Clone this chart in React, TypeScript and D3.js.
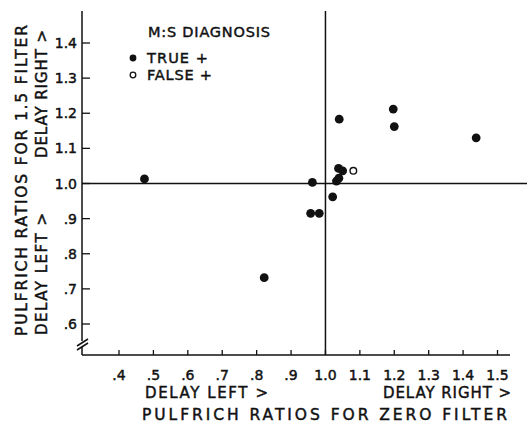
import React from "react";
import * as d3 from "d3";

const xTicks = [0.4, 0.5, 0.6, 0.7, 0.8, 0.9, 1.0, 1.1, 1.2, 1.3, 1.4, 1.5];
const xTickLabels = [".4", ".5", ".6", ".7", ".8", ".9", "1.0", "1.1", "1.2", "1.3", "1.4", "1.5"];
const yTicks = [0.6, 0.7, 0.8, 0.9, 1.0, 1.1, 1.2, 1.3, 1.4];
const yTickLabels = [".6", ".7", ".8", ".9", "1.0", "1.1", "1.2", "1.3", "1.4"];

const trueX = [0.474, 0.822, 0.957, 0.982, 0.962, 1.021, 1.032, 1.039, 1.038, 1.05, 1.04, 1.197, 1.2, 1.438];
const trueY = [1.013, 0.732, 0.915, 0.915, 1.003, 0.962, 1.007, 1.015, 1.043, 1.036, 1.183, 1.212, 1.162, 1.13];
const falseX = [1.081];
const falseY = [1.036];

const W = 527;
const H = 426;
const FONT = "'DejaVu Sans', sans-serif";

export default function App() {
  const x = d3.scaleLinear().domain([0.4, 1.5]).range([119, 497.5]);
  const y = d3.scaleLinear().domain([0.6, 1.4]).range([324, 43]);
  const axisX = 82;
  const axisY = 355;
  const topY = 11;
  const rightX = 527;
  const ink = "#111";
  const txt = { fontFamily: FONT, fill: ink, stroke: ink, strokeWidth: 0.45 } as const;

  return (
    <svg width={W} height={H} style={{ position: "absolute", left: 0, top: 0, background: "#fff" }}>
      <rect width={W} height={H} fill="#fff" />
      {/* axes */}
      <line x1={axisX} y1={topY} x2={axisX} y2={341} stroke={ink} strokeWidth={1.5} />
      <line x1={axisX} y1={347} x2={axisX} y2={axisY} stroke={ink} strokeWidth={1.5} />
      <line x1={77} y1={346} x2={88} y2={339} stroke={ink} strokeWidth={1.5} />
      <line x1={77} y1={350} x2={88} y2={343} stroke={ink} strokeWidth={1.5} />
      <line x1={axisX} y1={axisY} x2={510} y2={axisY} stroke={ink} strokeWidth={1.5} />
      {/* reference lines */}
      <line x1={x(1.0)} y1={topY} x2={x(1.0)} y2={axisY} stroke={ink} strokeWidth={1.5} />
      <line x1={axisX} y1={y(1.0)} x2={rightX} y2={y(1.0)} stroke={ink} strokeWidth={1.5} />
      {/* x ticks */}
      {xTicks.map((t, i) => (
        <g key={"xt" + i}>
          <line x1={x(t)} y1={axisY} x2={x(t)} y2={axisY - 5} stroke={ink} strokeWidth={1.3} />
          <text x={x(t)} y={380} textAnchor="middle" fontSize={14} {...txt}>
            {xTickLabels[i]}
          </text>
        </g>
      ))}
      {/* y ticks */}
      {yTicks.map((t, i) => (
        <g key={"yt" + i}>
          <line x1={axisX} y1={y(t)} x2={axisX + 8} y2={y(t)} stroke={ink} strokeWidth={1.3} />
          <text x={77} y={y(t)} dy="0.36em" textAnchor="end" fontSize={14} {...txt}>
            {yTickLabels[i]}
          </text>
        </g>
      ))}
      {/* x axis titles */}
      <text x={145} y={398} fontSize={15} textLength={123} lengthAdjust="spacing" {...txt}>DELAY LEFT &gt;</text>
      <text x={383} y={398} fontSize={15} textLength={128} lengthAdjust="spacing" {...txt}>DELAY RIGHT &gt;</text>
      <text x={142} y={420} fontSize={15.5} textLength={365} lengthAdjust="spacing" {...txt}>PULFRICH RATIOS FOR ZERO FILTER</text>
      {/* y axis titles */}
      <text transform="translate(27,336) rotate(-90)" fontSize={15.5} textLength={311} lengthAdjust="spacing" {...txt}>PULFRICH RATIOS FOR 1.5 FILTER</text>
      <text transform="translate(47,158) rotate(-90)" fontSize={15} textLength={128} lengthAdjust="spacing" {...txt}>DELAY RIGHT &gt;</text>
      <text transform="translate(47,335) rotate(-90)" fontSize={15} textLength={122} lengthAdjust="spacing" {...txt}>DELAY LEFT &gt;</text>
      {/* legend */}
      <text x={148} y={37} fontSize={14.5} textLength={122} lengthAdjust="spacing" {...txt}>M:S DIAGNOSIS</text>
      <circle cx={133} cy={58} r={3.4} fill={ink} />
      <text x={147} y={63} fontSize={14.5} textLength={61} lengthAdjust="spacing" {...txt}>TRUE +</text>
      <circle cx={133} cy={75} r={2.8} fill="#fff" stroke={ink} strokeWidth={1.3} />
      <text x={147} y={80} fontSize={14.5} textLength={65} lengthAdjust="spacing" {...txt}>FALSE +</text>
      {/* points */}
      {trueX.map((v, i) => (
        <circle key={"t" + i} cx={x(v)} cy={y(trueY[i])} r={4.4} fill={ink} />
      ))}
      {falseX.map((v, i) => (
        <circle key={"f" + i} cx={x(v)} cy={y(falseY[i])} r={3.3} fill="#fff" stroke={ink} strokeWidth={1.4} />
      ))}
    </svg>
  );
}
